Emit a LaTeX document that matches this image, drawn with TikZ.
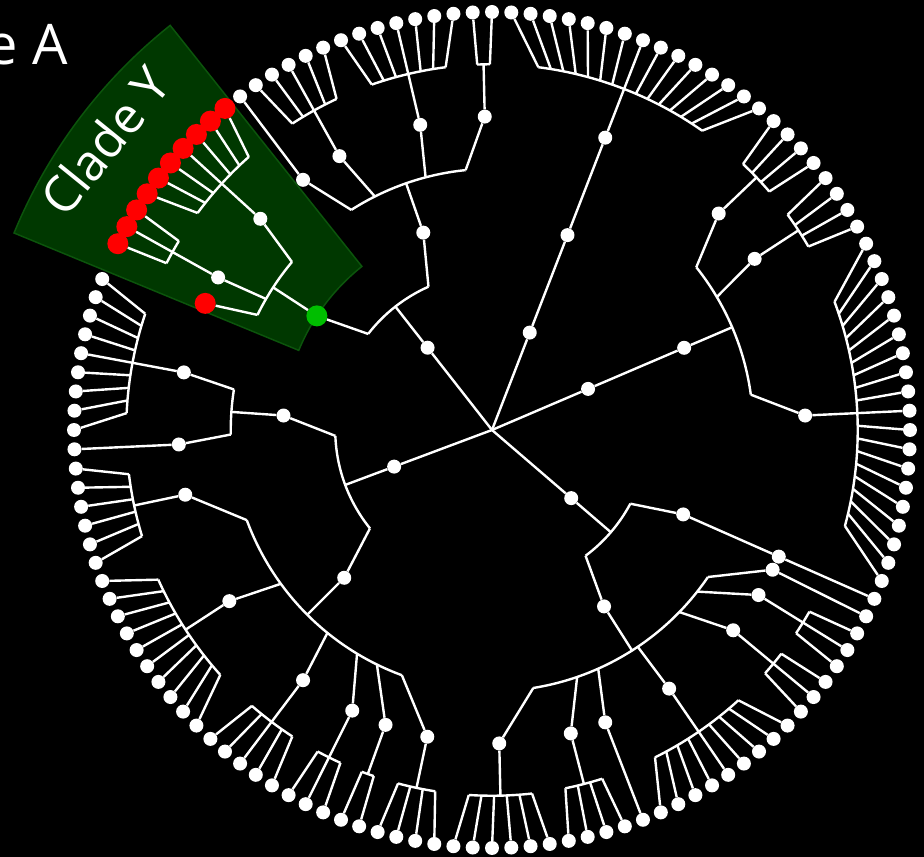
\documentclass[tikz,border=0pt]{standalone}
\usepackage{fontspec}
\setmainfont{Open Sans}
\usepackage{xcolor}

\definecolor{cladefill}{RGB}{0,56,0}
\definecolor{cladeline}{RGB}{12,84,12}
\definecolor{cladegreen}{RGB}{0,190,0}

% level radii
\newcommand{\rtwo}{104.5pt}
\newcommand{\rthree}{156.75pt}
\newcommand{\rfour}{209pt}
\newcommand{\rfive}{261.25pt}
\newcommand{\rsix}{313.5pt}
\newcommand{\rseven}{365.75pt}
\newcommand{\rtip}{418pt}
% tips numbered 1..136 clockwise, tip 66 at the top
\newcommand{\tipang}[1]{90-((#1)-66)*2.6470588}
% where a child at u=#2 leaves the arc of its parent at u=#1
\newcommand{\attang}[2]{\tipang{(#1)+0.75*((#2)-(#1))}}
% arc of a parent at u=#1 over children #2..#3, radius #4
\newcommand{\hubarc}[4]{\draw[branch] ({\attang{#1}{#2}}:#4) arc[start angle={\attang{#1}{#2}},end angle={\attang{#1}{#3}},radius=#4];}
% parent u, parent radius, child u, child name
\newcommand{\hangto}[4]{\draw[branch] ({\attang{#1}{#3}}:#2) -- (#4);}
% fan of tips #1..#2 on level 7
\newcommand{\tipfan}[2]{%
  \pgfmathsetmacro{\fu}{(#1+#2)/2}%
  \coordinate (f#1) at ({\tipang{\fu}}:\rseven);%
  \hubarc{\fu}{#1}{#2}{\rseven}%
  \foreach \m in {#1,...,#2}{\hangto{\fu}{\rseven}{\m}{t\m}}}
% level 6 knot over a fan, hung from a level 5 parent at u=#3
\newcommand{\knotfan}[3]{%
  \tipfan{#1}{#2}%
  \node[knot] (s#1) at ({\tipang{\fu}}:\rsix) {};%
  \hangto{#3}{\rfive}{\fu}{s#1}%
  \draw[branch] (s#1) -- (f#1);}
% level 6 knot over one tip
\newcommand{\knotleaf}[2]{%
  \node[knot] (s#1) at ({\tipang{#1}}:\rsix) {};%
  \hangto{#2}{\rfive}{#1}{s#1}%
  \draw[branch] (s#1) -- (t#1);}

\begin{document}
\begin{tikzpicture}[x=1pt,y=1pt,
  branch/.style={draw=white,line width=2.4pt},
  leaf/.style={circle,fill=white,inner sep=0pt,minimum size=14pt},
  knot/.style={leaf},
  redleaf/.style={circle,fill=red,inner sep=0pt,minimum size=21pt},
  cladenode/.style={circle,fill=cladegreen,inner sep=0pt,minimum size=21pt},
  cladebox/.style={fill=cladefill,draw=cladeline,line width=1.5pt},
  cladetext/.style={text=white,inner sep=0pt}]
\useasboundingbox (-492,-427) rectangle (432,430);
\fill[black] (-492,-427) rectangle (432,430);

% highlighted clade
\filldraw[cladebox] (128.5:209pt) arc[start angle=128.5,end angle=157.6,radius=209pt]
  -- (157.6:517pt) arc[start angle=157.6,end angle=128.5,radius=517pt] -- cycle;
\node[cladetext,font=\fontsize{50}{54}\selectfont,rotate=51] (cy) at (-387,289) {Clade Y};
\node[cladetext,font=\fontsize{56}{60}\selectfont,anchor=base east] (ca) at (-424,365) {e A};

% tips
\foreach \n in {1,...,40} \node[leaf] (t\n) at ({\tipang{\n}}:\rtip) {};
\foreach \n in {52,...,136} \node[leaf] (t\n) at ({\tipang{\n}}:\rtip) {};
\foreach \n in {42,...,51} \node[redleaf] (t\n) at ({\tipang{\n}}:\rtip) {};
\node[redleaf] (t41) at ({\tipang{41}}:\rsix) {};

% root and its five children
\coordinate (root) at (0,0);
\node[knot] (p1) at ({\tipang{74}}:\rtwo) {};
\node[knot] (p2) at ({\tipang{91.25}}:\rtwo) {};
\node[knot] (p3) at ({\tipang{115.375}}:\rtwo) {};
\node[knot] (p4) at ({\tipang{24.25}}:\rtwo) {};
\node[knot] (p5) at ({\tipang{51.625}}:\rtwo) {};

% top right
\node[knot] (q74) at ({\tipang{74}}:\rfour) {};
\node[knot] (s67) at ({\tipang{74}}:\rsix) {};
\tipfan{67}{81}
\draw[branch] (root) -- (p1) -- (q74) -- (s67) -- (f67);

% right
\node[knot] (q91) at ({\tipang{91.25}}:\rfour) {};
\coordinate (h91) at ({\tipang{91.25}}:\rfive);
\hubarc{91.25}{83.5}{99}{\rfive}
\draw[branch] (root) -- (p2) -- (q91) -- (h91);
\knotfan{82}{85}{91.25}
\knotfan{86}{89}{91.25}
\knotfan{90}{108}{91.25}

% lower right
\coordinate (h115) at ({\tipang{115.375}}:\rthree);
\hubarc{115.375}{109}{121.75}{\rthree}
\draw[branch] (root) -- (p3) -- (h115);
\node[knot] (q109) at ({\tipang{109}}:\rfour) {};
\node[knot] (s109) at ({\tipang{109}}:\rsix) {};
\hangto{115.375}{\rthree}{109}{q109}
\draw[branch] (q109) -- (s109) -- (t109);
\node[knot] (q121) at ({\tipang{121.75}}:\rfour) {};
\hangto{115.375}{\rthree}{121.75}{q121}
\coordinate (h121) at ({\tipang{121.75}}:\rfive);
\hubarc{121.75}{110}{133.5}{\rfive}
\draw[branch] (q121) -- (h121);
\knotleaf{110}{121.75}
\knotfan{111}{113}{121.75}
\knotfan{114}{116}{121.75}
\knotfan{117}{125}{121.75}
\knotleaf{126}{121.75}
\knotfan{127}{130}{121.75}
\knotfan{131}{136}{121.75}

% lower left
\coordinate (h24) at ({\tipang{24.25}}:\rthree);
\hubarc{24.25}{15}{33.5}{\rthree}
\draw[branch] (root) -- (p4) -- (h24);
\node[knot] (q15) at ({\tipang{15}}:\rfour) {};
\node[knot] (q33) at ({\tipang{33.5}}:\rfour) {};
\hangto{24.25}{\rthree}{15}{q15}
\hangto{24.25}{\rthree}{33.5}{q33}
\coordinate (h33) at ({\tipang{33.5}}:\rfive);
\hubarc{33.5}{31}{36}{\rfive}
\draw[branch] (q33) -- (h33);
\knotleaf{31}{33.5}
\knotfan{32}{40}{33.5}
\coordinate (h15) at ({\tipang{15}}:\rfive);
\hubarc{15}{2.5}{27.5}{\rfive}
\draw[branch] (q15) -- (h15);
\foreach \a/\b in {1/4,5/6,7/9,10/14,15/24,25/30} {\knotfan{\a}{\b}{15}}

% upper left, with clade Y
\coordinate (h51) at ({\tipang{51.625}}:\rthree);
\hubarc{51.625}{44.5}{58.75}{\rthree}
\draw[branch] (root) -- (p5) -- (h51);
\node[cladenode] (g) at ({\tipang{44.5}}:\rfour) {};
\node[knot] (q58) at ({\tipang{58.75}}:\rfour) {};
\hangto{51.625}{\rthree}{44.5}{g}
\hangto{51.625}{\rthree}{58.75}{q58}
\coordinate (h44) at ({\tipang{44.5}}:\rfive);
\hubarc{44.5}{41}{48}{\rfive}
\draw[branch] (g) -- (h44);
\hangto{44.5}{\rfive}{41}{t41}
\knotfan{42}{44}{44.5}
\knotfan{45}{51}{44.5}
\coordinate (h58) at ({\tipang{58.75}}:\rfive);
\hubarc{58.75}{52}{65.5}{\rfive}
\draw[branch] (q58) -- (h58);
\knotleaf{52}{58.75}
\knotfan{53}{57}{58.75}
\knotfan{58}{64}{58.75}
\knotfan{65}{66}{58.75}
\end{tikzpicture}
\end{document}
